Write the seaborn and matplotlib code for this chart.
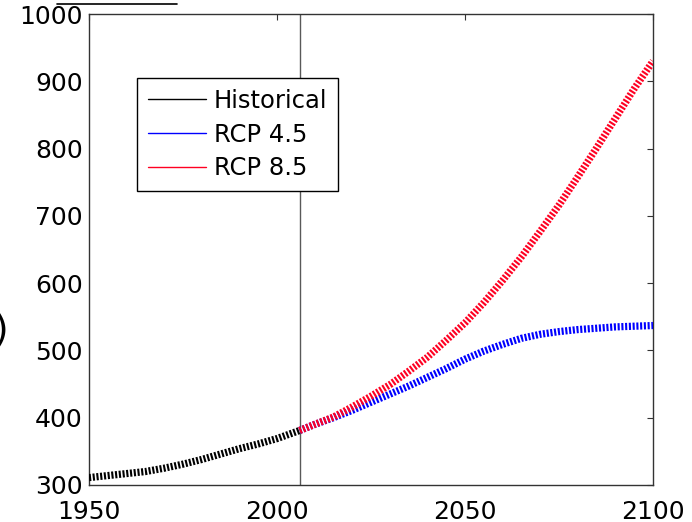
import numpy as np
import pandas as pd
import matplotlib
matplotlib.use("Agg")
import matplotlib.pyplot as plt
from matplotlib.lines import Line2D
import seaborn as sns

# ---- data (CO2, ppm) ----
hist_years = [1950, 1955, 1960, 1965, 1970, 1975, 1980, 1985, 1990, 1995, 2000, 2006]
hist_co2 = [311, 314, 317, 320, 325, 331, 338, 346, 354, 361, 369, 381]

rcp_years = [2006, 2010, 2015, 2020, 2025, 2030, 2035, 2040, 2045, 2050, 2055,
             2060, 2065, 2070, 2075, 2080, 2085, 2090, 2095, 2100]
rcp45_co2 = [381, 390, 400, 411, 423, 435, 447, 460, 473, 487, 499,
             509, 518, 524, 528, 531, 533, 535, 536, 537]
rcp85_co2 = [381, 390, 401, 416, 432, 449, 469, 490, 515, 541, 571,
             604, 639, 677, 716, 758, 801, 845, 889, 930]

labels = ["Historical", "RCP 4.5", "RCP 8.5"]
colors = ["black", "#0000ff", "#ff0022"]
x_ticks = [1950, 2000, 2050, 2100]
y_ticks = [300, 400, 500, 600, 700, 800, 900, 1000]
split_year = 2006

hist_df = pd.DataFrame({"year": hist_years, "co2": hist_co2})
r45_df = pd.DataFrame({"year": rcp_years, "co2": rcp45_co2})
r85_df = pd.DataFrame({"year": rcp_years, "co2": rcp85_co2})

sns.set_theme(style="white")
plt.rcParams["font.family"] = ["DejaVu Sans"]
plt.rcParams["text.color"] = "black"
plt.rcParams["lines.scale_dashes"] = False

fig = plt.figure(figsize=(6.92, 5.22), dpi=100)
ax = fig.add_axes([89 / 692, 1 - 485 / 522, (653 - 89) / 692, (485 - 14) / 522])

ax.axvline(split_year, color="0.35", lw=1.0, zorder=1)

lw = 5.2
dash = (0, (1.5, 1.2))
for df, c in [(hist_df, colors[0]), (r45_df, colors[1]), (r85_df, colors[2])]:
    sns.lineplot(data=df, x="year", y="co2", color=c, lw=lw, ax=ax, zorder=3)
    ln = ax.lines[-1]
    ln.set_linestyle(dash)
    ln.set_solid_capstyle("butt")
    ln.set_dash_capstyle("butt")

ax.set_xlim(1950, 2100)
ax.set_ylim(300, 1000)
ax.set_xticks(x_ticks)
ax.set_yticks(y_ticks)
ax.set_xlabel("")
ax.set_ylabel("")
ax.tick_params(direction="in", top=True, right=True, length=4, width=0.8,
               labelsize=18, color="0.2", labelcolor="black")
ax.tick_params(axis="x", pad=10.5)
ax.tick_params(axis="y", pad=4.5)
for s in ax.spines.values():
    s.set_color("0.2")
    s.set_linewidth(1.0)

handles = [Line2D([], [], color=c, lw=1.0) for c in colors]
leg = ax.legend(handles, labels, loc="upper left",
                bbox_to_anchor=(137 / 692, 1 - 78 / 522),
                bbox_transform=fig.transFigure, fontsize=17.5,
                frameon=True, fancybox=False, framealpha=1,
                edgecolor="black", borderpad=0.45, labelspacing=0.4,
                handlelength=2.4, handletextpad=0.3, borderaxespad=0)
leg.get_frame().set_linewidth(1.0)
for t in leg.get_texts():
    t.set_color("black")

# stray fragments visible at the figure edges
fig.add_artist(Line2D([57 / 692, 177 / 692], [1 - 4 / 522, 1 - 4 / 522],
                      color="black", lw=1.2, transform=fig.transFigure))
fig.text(9 / 692, 1 - 330 / 522, ")", ha="right", va="center", fontsize=27)

fig.savefig("out.png", dpi=100)
